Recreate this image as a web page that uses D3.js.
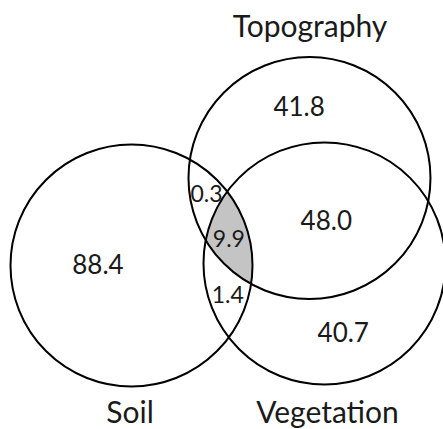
<!DOCTYPE html>
<html>
<head>
<meta charset="utf-8">
<script src="https://cdn.jsdelivr.net/npm/d3@7"></script>
<style>
  body { margin: 0; background: #fff; }
  text { font-family: Lato, "Open Sans", sans-serif; fill: #1a1a1a; }
</style>
</head>
<body>
<div id="venn"></div>
<script>
var svgWidth = 443;
var svgHeight = 429;

// set names and region values (%)
var setNames = ["Soil", "Topography", "Vegetation"];
var regionKeys = ["S", "T", "V", "ST", "SV", "TV", "STV"];
var regionValues = [88.4, 41.8, 40.7, 0.3, 1.4, 48.0, 9.9];

// layout in units of one circle radius (origin = Soil centre)
var circleX = [0, 1.471, 1.595];
var circleY = [0, -0.723, -0.017];
var setLabelX = [-0.012, 1.475, 1.62];
var setLabelY = [1.3, -1.888, 1.3];
var regionLabelX = [-0.277, 1.385, 1.75, 0.62, 0.795, 1.61, 0.805];
var regionLabelY = [0.07, -1.235, 0.635, -0.525, 0.31, -0.29, -0.15];

var r = 121;
var x = d3.scaleLinear().domain([0, 1]).range([131.5, 131.5 + r]);
var y = d3.scaleLinear().domain([0, 1]).range([265.5, 265.5 + r]);

var svg = d3.select("#venn")
  .append("svg")
  .attr("width", svgWidth)
  .attr("height", svgHeight);

var circles = setNames.map(function(name, i) {
  return { name: name, cx: x(circleX[i]), cy: y(circleY[i]), r: x(1) - x(0) };
});

// clip paths for the triple overlap
var defs = svg.append("defs");
circles.forEach(function(c, i) {
  defs.append("clipPath")
    .attr("id", "clip" + i)
    .append("circle")
    .attr("cx", c.cx)
    .attr("cy", c.cy)
    .attr("r", c.r);
});

svg.append("g")
  .attr("clip-path", "url(#clip0)")
  .append("g")
  .attr("clip-path", "url(#clip1)")
  .append("circle")
  .attr("cx", circles[2].cx)
  .attr("cy", circles[2].cy)
  .attr("r", circles[2].r)
  .attr("fill", "#c4c4c4");

svg.selectAll("circle.set")
  .data(circles)
  .enter()
  .append("circle")
  .attr("class", "set")
  .attr("cx", d => d.cx)
  .attr("cy", d => d.cy)
  .attr("r", d => d.r)
  .attr("fill", "none")
  .attr("stroke", "#000")
  .attr("stroke-width", 2);

// set names
svg.selectAll("text.setname")
  .data(setNames)
  .enter()
  .append("text")
  .attr("class", "setname")
  .attr("x", (d, i) => x(setLabelX[i]))
  .attr("y", (d, i) => y(setLabelY[i]))
  .attr("text-anchor", "middle")
  .attr("font-size", 30)
  .text(d => d);

// region values
svg.selectAll("text.value")
  .data(regionValues)
  .enter()
  .append("text")
  .attr("class", "value")
  .attr("x", (d, i) => x(regionLabelX[i]))
  .attr("y", (d, i) => y(regionLabelY[i]))
  .attr("text-anchor", "middle")
  .attr("font-size", (d, i) => regionKeys[i].length > 1 && regionKeys[i] != "TV" ? 23 : 26)
  .text(d => d.toFixed(1));
</script>
</body>
</html>
